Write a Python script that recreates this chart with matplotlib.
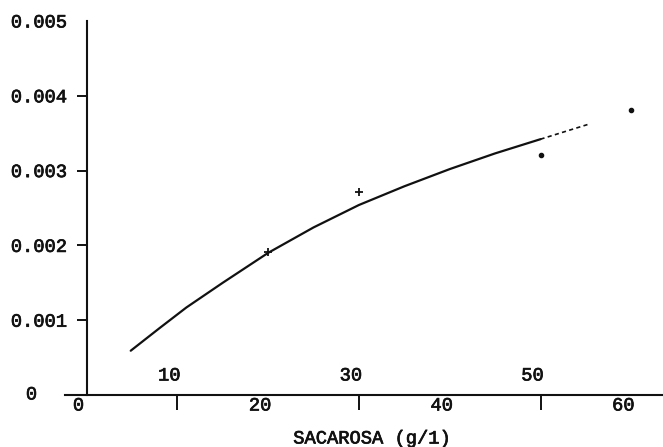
import matplotlib
matplotlib.use("Agg")
import matplotlib.pyplot as plt
import matplotlib.patheffects as pe

# Fitted curve (sucrose g/l vs rate)
curve_x = [4.87, 8.0, 11.0, 15.0, 20.0, 25.0, 30.0, 35.0, 40.0, 45.0, 50.0, 55.3]
curve_y = [0.000592, 0.00089, 0.00117, 0.00150, 0.00190, 0.00224, 0.00254,
           0.00279, 0.00302, 0.00323, 0.00342, 0.00362]

# Experimental points
cross_x = [20, 30]
cross_y = [0.00191, 0.00271]
dot_x = [50, 60]
dot_y = [0.00321, 0.00381]

ytick_vals = [0.001, 0.002, 0.003, 0.004, 0.005]
ytick_labels = ["0.001", "0.002", "0.003", "0.004", "0.005"]
xtick_marks = [10, 30, 50]
xlabels_above = [10, 30, 50]
xlabels_below = [0, 20, 40, 60]
xlabel_text = "SACAROSA (g/1)"

FONT = "Liberation Mono"
FS = 13.5
INK = "#111111"
BOLDEN = [pe.withStroke(linewidth=0.5, foreground=INK)]

W, H = 663, 447
fig = plt.figure(figsize=(W / 100, H / 100), dpi=100)
fig.patch.set_facecolor("white")

x0_px, px_per_unit = 86.5, 9.08
left_px, axis_y_px, top_px = 65, 395, 21
ax = fig.add_axes([left_px / W, (H - axis_y_px) / H,
                   (W - left_px) / W, (axis_y_px - top_px) / H])
ax.set_xlim((left_px - x0_px) / px_per_unit, (W - x0_px) / px_per_unit)
ax.set_ylim(0, 0.005)
ax.patch.set_alpha(0)

for s in ("top", "right"):
    ax.spines[s].set_visible(False)
ax.spines["left"].set_position(("data", 0))
for s in ("left", "bottom"):
    ax.spines[s].set_linewidth(1.5)
    ax.spines[s].set_color(INK)

text_kw = dict(fontfamily=FONT, fontsize=FS, color=INK, path_effects=BOLDEN)

# y axis ticks and labels
ax.set_yticks(ytick_vals)
ax.set_yticklabels(ytick_labels, **text_kw)
ax.tick_params(axis="y", direction="out", length=7, width=1.4, pad=7, color=INK)
ax.yaxis.get_major_ticks()[-1].tick1line.set_visible(False)
ax.annotate("0", xy=(0, 0), xytext=(-55, 0), textcoords="offset pixels",
            ha="center", va="center", annotation_clip=False, **text_kw)

# x axis ticks
ax.set_xticks(xtick_marks)
ax.set_xticklabels([])
ax.tick_params(axis="x", direction="out", length=11, width=1.4, color=INK)

for v in xlabels_above:
    ax.annotate(str(v), xy=(v, 0), xytext=(-8, 19), textcoords="offset pixels",
                ha="center", va="center", annotation_clip=False, **text_kw)
for v in xlabels_below:
    ax.annotate(str(v), xy=(v, 0), xytext=(-8, -11), textcoords="offset pixels",
                ha="center", va="center", annotation_clip=False, **text_kw)

ax.annotate(xlabel_text, xy=(0, 0), xycoords="figure pixels",
            xytext=(372, H - 439), textcoords="figure pixels",
            ha="center", va="center", **text_kw)

# curve: solid part, then faint dashed tail
split = 10
ax.plot(curve_x[:split + 1], curve_y[:split + 1], color=INK, lw=1.6,
        solid_capstyle="round", solid_joinstyle="round", clip_on=False)
ax.plot(curve_x[split:], curve_y[split:], color=INK, lw=1.2,
        linestyle=(0, (2.5, 2)), clip_on=False)

ax.plot(cross_x, cross_y, linestyle="none", marker="+", markersize=6,
        markeredgewidth=1.3, color=INK, clip_on=False)
ax.plot(dot_x, dot_y, linestyle="none", marker="o", markersize=3,
        color=INK, clip_on=False)

fig.savefig("out.png", dpi=100, facecolor="white")
